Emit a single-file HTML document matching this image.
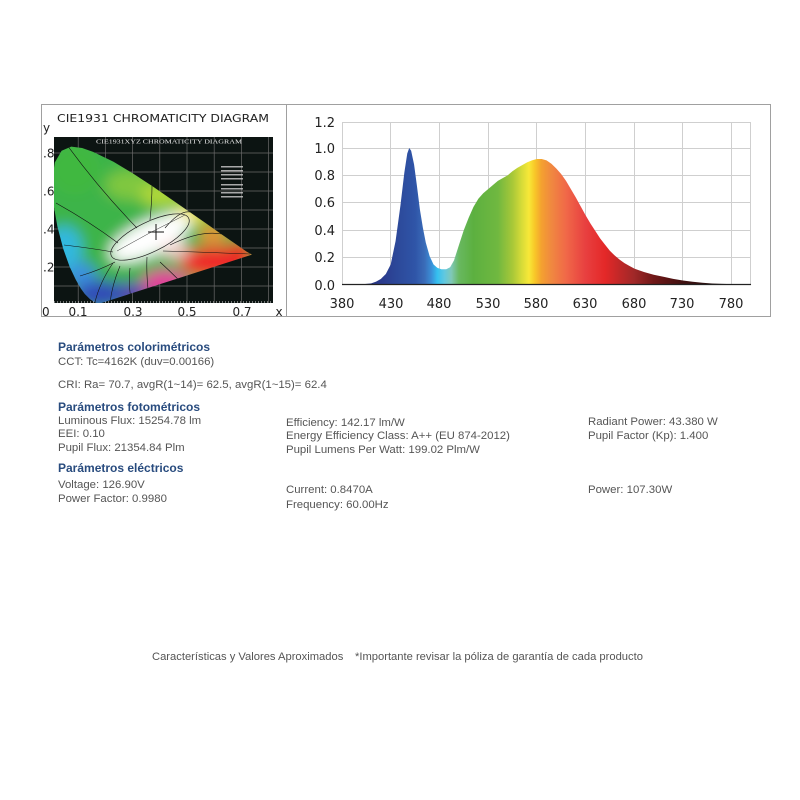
<!DOCTYPE html>
<html><head><meta charset="utf-8">
<style>
html,body{margin:0;padding:0;background:#fff;}
body{width:800px;height:800px;position:relative;overflow:hidden;font-family:"Liberation Sans",Arial,sans-serif;}
.t{position:absolute;white-space:nowrap;color:#555;font-size:11.4px;line-height:14px;}
.h{position:absolute;white-space:nowrap;color:#284b7e;font-size:12px;font-weight:bold;line-height:14px;}
.f{position:absolute;white-space:nowrap;color:#555;font-size:11.2px;line-height:14px;}
svg{position:absolute;left:0;top:0;}
</style></head><body>
<svg width="800" height="330" viewBox="0 0 800 330" xmlns="http://www.w3.org/2000/svg">
<defs>
<linearGradient id="spec" gradientUnits="userSpaceOnUse" x1="380" y1="0" x2="800" y2="0">
<stop offset="0" stop-color="#1a2060"/>
<stop offset="0.095" stop-color="#2a3a8c"/>
<stop offset="0.143" stop-color="#2d4b9c"/>
<stop offset="0.179" stop-color="#2f55a8"/>
<stop offset="0.202" stop-color="#3a6cb8"/>
<stop offset="0.219" stop-color="#3a90d8"/>
<stop offset="0.233" stop-color="#35c0f0"/>
<stop offset="0.25" stop-color="#60c8e0"/>
<stop offset="0.267" stop-color="#80c8b8"/>
<stop offset="0.286" stop-color="#68b860"/>
<stop offset="0.321" stop-color="#5cb040"/>
<stop offset="0.381" stop-color="#70b840"/>
<stop offset="0.417" stop-color="#a8c838"/>
<stop offset="0.44" stop-color="#d8dc38"/>
<stop offset="0.457" stop-color="#f8e838"/>
<stop offset="0.471" stop-color="#f8c828"/>
<stop offset="0.488" stop-color="#f4a030"/>
<stop offset="0.512" stop-color="#f08840"/>
<stop offset="0.548" stop-color="#f06848"/>
<stop offset="0.595" stop-color="#e84040"/>
<stop offset="0.643" stop-color="#e42828"/>
<stop offset="0.679" stop-color="#c02828"/>
<stop offset="0.714" stop-color="#a02828"/>
<stop offset="0.762" stop-color="#701818"/>
<stop offset="0.833" stop-color="#401010"/>
<stop offset="0.905" stop-color="#281010"/>
<stop offset="1" stop-color="#201010"/>
</linearGradient>
<clipPath id="hs">
<path d="M98.4,304 L93.6,301.6 L90.2,299.4 L84.8,294 L80.8,288.5 L75.8,279.8 L69.7,266.9 L63.3,249 L57.4,226.6 L53.2,202.7 L52.1,180.6 L54.8,162.5 L61.6,150.7 L71.2,146.6 L82.1,148 L93.1,151.9 L113.5,161.7 L133,173.5 L152.5,186.3 L171.8,199.6 L190.4,212.5 L207.5,224.4 L221.5,234.2 L239.1,246.4 L246.6,251.6 L252,254.6 Z"/>
</clipPath>
<clipPath id="blk"><rect x="54" y="137" width="219" height="166"/></clipPath>
<filter id="bl" x="-20%" y="-20%" width="140%" height="140%"><feGaussianBlur stdDeviation="7"/></filter>
</defs>

<rect x="41.5" y="104.5" width="729" height="212" fill="#fff" stroke="#a0a0a0" stroke-width="1"/>
<line x1="286.5" y1="104" x2="286.5" y2="317" stroke="#a0a0a0" stroke-width="1"/>

<text x="57" y="122" font-family="DejaVu Sans,Verdana,sans-serif" font-size="11" fill="#222" textLength="212" lengthAdjust="spacingAndGlyphs">CIE1931 CHROMATICITY DIAGRAM</text>
<text x="43" y="132" font-family="DejaVu Sans,sans-serif" font-size="12" fill="#222">y</text>
<rect x="54" y="137" width="219" height="166" fill="#0c1412"/>
<g stroke="#6a6a6a" stroke-width="0.7" clip-path="url(#blk)">
<line x1="78.2" y1="137" x2="78.2" y2="303"/><line x1="105.4" y1="137" x2="105.4" y2="303"/>
<line x1="132.6" y1="137" x2="132.6" y2="303"/><line x1="159.8" y1="137" x2="159.8" y2="303"/>
<line x1="187" y1="137" x2="187" y2="303"/><line x1="214.2" y1="137" x2="214.2" y2="303"/>
<line x1="241.4" y1="137" x2="241.4" y2="303"/><line x1="268.6" y1="137" x2="268.6" y2="303"/>
<line x1="54" y1="286" x2="273" y2="286"/><line x1="54" y1="267" x2="273" y2="267"/>
<line x1="54" y1="248" x2="273" y2="248"/><line x1="54" y1="229" x2="273" y2="229"/>
<line x1="54" y1="210" x2="273" y2="210"/><line x1="54" y1="191" x2="273" y2="191"/>
<line x1="54" y1="172" x2="273" y2="172"/><line x1="54" y1="153" x2="273" y2="153"/>
</g>
<line x1="54" y1="302" x2="273" y2="302" stroke="#ddd" stroke-width="1" stroke-dasharray="1 2"/>
<text x="96" y="143.5" font-family="Liberation Serif,serif" font-size="6.5" fill="#e8e8e8" textLength="146" lengthAdjust="spacingAndGlyphs">CIE1931XYZ CHROMATICITY DIAGRAM</text>
<g fill="#cfcfcf" opacity="0.8">
<rect x="221" y="166" width="22" height="1.5"/><rect x="221" y="170" width="22" height="1.5"/>
<rect x="221" y="174" width="22" height="1.5"/><rect x="221" y="178" width="22" height="1.5"/>
<rect x="221" y="184" width="22" height="1.5"/><rect x="221" y="188" width="22" height="1.5"/>
<rect x="221" y="192" width="22" height="1.5"/><rect x="221" y="196" width="22" height="1.5"/>
</g>
<g clip-path="url(#blk)">
<g clip-path="url(#hs)">
<g filter="url(#bl)">
<rect x="40" y="130" width="240" height="190" fill="#3cb44a"/>
<ellipse cx="75" cy="170" rx="25" ry="25" fill="#40b840"/>
<ellipse cx="130" cy="185" rx="25" ry="15" fill="#80c840"/>
<ellipse cx="160" cy="195" rx="20" ry="12" fill="#b0d838"/>
<ellipse cx="190" cy="214" rx="18" ry="10" fill="#f0e040"/>
<ellipse cx="213" cy="234" rx="14" ry="9" fill="#f09030"/>
<ellipse cx="215" cy="262" rx="35" ry="16" fill="#ee2a2a"/>
<ellipse cx="240" cy="250" rx="15" ry="8" fill="#e82020"/>
<ellipse cx="165" cy="284" rx="24" ry="15" fill="#e0409a"/>
<ellipse cx="130" cy="294" rx="18" ry="12" fill="#6040b0"/>
<ellipse cx="100" cy="294" rx="26" ry="14" fill="#3048b8"/>
<ellipse cx="80" cy="274" rx="16" ry="12" fill="#3a8ee0"/>
<ellipse cx="64" cy="248" rx="18" ry="22" fill="#30b8e0"/>
<ellipse cx="150" cy="238" rx="44" ry="17" fill="#ffffff" transform="rotate(-25 150 238)"/>
<ellipse cx="175" cy="250" rx="14" ry="8" fill="#f8d0d0"/>
</g>
<g fill="none" stroke="#111" stroke-width="0.6">
<path d="M67,145 Q100,190 137,228"/>
<path d="M56,203 Q90,222 118,243"/>
<path d="M64,245 Q90,248 113,252"/>
<path d="M113,263 Q100,282 95,302"/>
<path d="M120,266 Q112,285 110,303"/>
<path d="M130,268 Q128,288 132,303"/>
<path d="M147,257 Q146,280 150,303"/>
<path d="M163,251 Q200,252 250,254"/>
<path d="M170,245 Q200,230 222,234"/>
<path d="M165,228 Q180,210 190,212"/>
<path d="M150,220 Q152,200 152,186"/>
<path d="M160,262 Q185,285 200,303"/>
<path d="M80,276 Q100,270 115,262"/>
</g>
<ellipse cx="150" cy="237" rx="43" ry="15" fill="none" stroke="#222" stroke-width="0.7" transform="rotate(-26 150 237)"/>
<path d="M117,251 Q150,232 185,215" fill="none" stroke="#333" stroke-width="0.5"/>
</g>
</g>
<g stroke="#111" stroke-width="1">
<line x1="148" y1="232" x2="164" y2="232"/><line x1="156" y1="224" x2="156" y2="240"/>
</g>
<g font-family="DejaVu Sans,Verdana,sans-serif" font-size="12" fill="#222">
<text x="43" y="157.5">.8</text>
<text x="43" y="195.5">.6</text>
<text x="43" y="233.5">.4</text>
<text x="43" y="271.5">.2</text>
<text x="42" y="316">0</text>
<text x="78" y="316" text-anchor="middle">0.1</text>
<text x="133" y="316" text-anchor="middle">0.3</text>
<text x="187" y="316" text-anchor="middle">0.5</text>
<text x="242" y="316" text-anchor="middle">0.7</text>
<text x="279" y="316" text-anchor="middle">x</text>
</g>

<g stroke="#cfcfcf" stroke-width="1">
<line x1="342" y1="122.5" x2="751" y2="122.5"/>
<line x1="342" y1="148.5" x2="751" y2="148.5"/>
<line x1="342" y1="175.5" x2="751" y2="175.5"/>
<line x1="342" y1="202.5" x2="751" y2="202.5"/>
<line x1="342" y1="230.5" x2="751" y2="230.5"/>
<line x1="342" y1="257.5" x2="751" y2="257.5"/>
<line x1="342.5" y1="122" x2="342.5" y2="285"/>
<line x1="390.5" y1="122" x2="390.5" y2="285"/>
<line x1="439.5" y1="122" x2="439.5" y2="285"/>
<line x1="488.5" y1="122" x2="488.5" y2="285"/>
<line x1="536.5" y1="122" x2="536.5" y2="285"/>
<line x1="585.5" y1="122" x2="585.5" y2="285"/>
<line x1="634.5" y1="122" x2="634.5" y2="285"/>
<line x1="682.5" y1="122" x2="682.5" y2="285"/>
<line x1="731.5" y1="122" x2="731.5" y2="285"/>
<line x1="750.5" y1="122" x2="750.5" y2="285"/>
</g>
<path transform="translate(342,285) scale(0.974,-137) translate(-380,0)" fill="url(#spec)" d="M380,0 L380,0.003 L400,0.005 L410,0.012 L415,0.025 L420,0.045 L425,0.08 L430,0.15 L435,0.32 L440,0.58 L444,0.82 L447,0.96 L449,1.0 L451,0.98 L454,0.88 L457,0.72 L460,0.55 L463,0.42 L466,0.31 L470,0.21 L474,0.15 L478,0.125 L482,0.115 L487,0.115 L491,0.13 L495,0.18 L500,0.29 L505,0.40 L510,0.49 L515,0.57 L520,0.63 L525,0.67 L530,0.70 L535,0.73 L540,0.76 L545,0.78 L550,0.80 L555,0.83 L560,0.855 L565,0.875 L570,0.895 L575,0.91 L580,0.92 L585,0.92 L590,0.91 L595,0.885 L600,0.85 L605,0.81 L610,0.76 L615,0.70 L620,0.64 L625,0.575 L630,0.51 L635,0.45 L640,0.395 L645,0.34 L650,0.295 L655,0.25 L660,0.215 L665,0.185 L670,0.16 L675,0.14 L680,0.12 L690,0.095 L700,0.075 L710,0.06 L720,0.045 L730,0.033 L740,0.024 L750,0.016 L760,0.011 L770,0.008 L780,0.006 L790,0.004 L800,0.003 L800,0 Z"/>
<line x1="342" y1="284.5" x2="751" y2="284.5" stroke="#222" stroke-width="1.2"/>
<g font-family="DejaVu Sans,Verdana,sans-serif" font-size="13" fill="#222">
<text x="335" y="127" text-anchor="end">1.2</text>
<text x="335" y="153" text-anchor="end">1.0</text>
<text x="335" y="180" text-anchor="end">0.8</text>
<text x="335" y="207" text-anchor="end">0.6</text>
<text x="335" y="235" text-anchor="end">0.4</text>
<text x="335" y="262" text-anchor="end">0.2</text>
<text x="335" y="290" text-anchor="end">0.0</text>
<text x="342" y="308" text-anchor="middle">380</text>
<text x="391" y="308" text-anchor="middle">430</text>
<text x="439" y="308" text-anchor="middle">480</text>
<text x="488" y="308" text-anchor="middle">530</text>
<text x="536" y="308" text-anchor="middle">580</text>
<text x="585" y="308" text-anchor="middle">630</text>
<text x="634" y="308" text-anchor="middle">680</text>
<text x="682" y="308" text-anchor="middle">730</text>
<text x="731" y="308" text-anchor="middle">780</text>
</g>
</svg>

<div class="h" style="left:58px;top:340px;">Parámetros colorimétricos</div>
<div class="t" style="left:58px;top:355px;">CCT: Tc=4162K (duv=0.00166)</div>
<div class="t" style="left:58px;top:378px;">CRI: Ra= 70.7, avgR(1~14)= 62.5, avgR(1~15)= 62.4</div>
<div class="h" style="left:58px;top:400px;">Parámetros fotométricos</div>
<div class="t" style="left:58px;top:414px;">Luminous Flux: 15254.78 lm</div>
<div class="t" style="left:58px;top:427px;">EEI: 0.10</div>
<div class="t" style="left:58px;top:441px;">Pupil Flux: 21354.84 Plm</div>
<div class="t" style="left:286px;top:416px;">Efficiency: 142.17 lm/W</div>
<div class="t" style="left:286px;top:429px;">Energy Efficiency Class: A++ (EU 874-2012)</div>
<div class="t" style="left:286px;top:443px;">Pupil Lumens Per Watt: 199.02 Plm/W</div>
<div class="t" style="left:588px;top:415px;">Radiant Power: 43.380 W</div>
<div class="t" style="left:588px;top:429px;">Pupil Factor (Kp): 1.400</div>
<div class="h" style="left:58px;top:461px;">Parámetros eléctricos</div>
<div class="t" style="left:58px;top:478px;">Voltage: 126.90V</div>
<div class="t" style="left:58px;top:492px;">Power Factor: 0.9980</div>
<div class="t" style="left:286px;top:483px;">Current: 0.8470A</div>
<div class="t" style="left:286px;top:498px;">Frequency: 60.00Hz</div>
<div class="t" style="left:588px;top:483px;">Power: 107.30W</div>
<div class="f" style="left:152px;top:650px;">Características y Valores Aproximados</div>
<div class="f" style="left:355px;top:650px;">*Importante revisar la póliza de garantía de cada producto</div>
</body></html>
